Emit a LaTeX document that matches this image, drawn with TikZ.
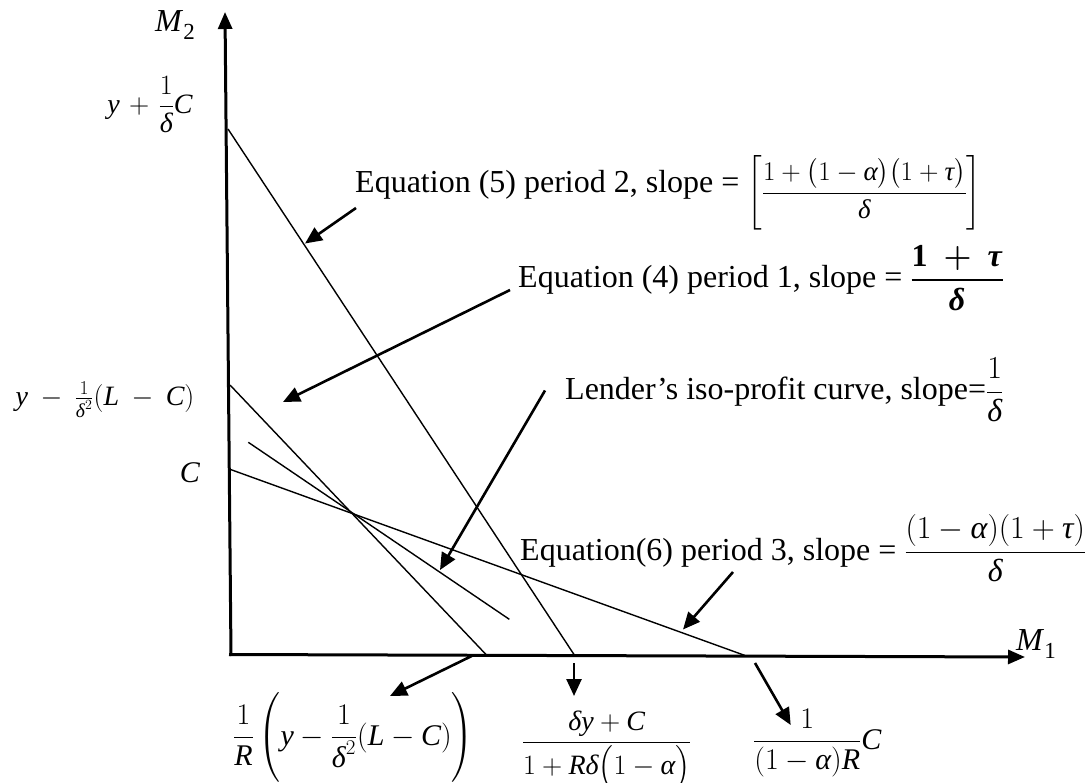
\RequirePackage{fix-cm}
\documentclass[tikz,border=0pt]{standalone}
\usepackage{amsmath}
\usepackage{fontspec}
\setmainfont{Liberation Serif}
\usetikzlibrary{arrows.meta}
\newcommand{\mi}[1]{\textit{#1}}
\begin{document}
\begin{tikzpicture}[x=1pt,y=-1pt,
  thinline/.style={line width=1.4pt},
  axisline/.style={line width=3pt,-{Triangle[length=17pt,width=14pt]}},
  pointer/.style={line width=2.6pt,-{Triangle[length=17pt,width=15pt]}},
  lbl/.style={inner sep=0pt,font=\fontsize{32}{38}\selectfont},
  slbl/.style={inner sep=0pt,font=\fontsize{28}{33}\selectfont},
  mlbl/.style={inner sep=0pt,font=\fontsize{28}{34}\selectfont},
  blbl/.style={inner sep=0pt,font=\fontsize{30}{36}\selectfont}]
\path[use as bounding box] (0,0) rectangle (1090,783);

% axes
\coordinate (O) at (230.5,654.5);
\coordinate (Ytop) at (225,12);
\coordinate (Xend) at (1025,657);
\draw[axisline] (231,656) -- (Ytop);
\draw[axisline] (229,654.5) -- (Xend);

% lines
\coordinate (e5a) at (228,129);
\coordinate (e5b) at (574,654.5);
\coordinate (e4a) at (230,385);
\coordinate (e4b) at (486,654.5);
\coordinate (isa) at (248.3,442.3);
\coordinate (isb) at (509.3,619.3);
\coordinate (e6a) at (230,469.3);
\coordinate (e6b) at (745,655.5);
\draw[thinline] (e5a) -- (e5b);
\draw[thinline] (e4a) -- (e4b);
\draw[thinline] (isa) -- (isb);
\draw[thinline] (e6a) -- (e6b);

% axis labels
\node[lbl,anchor=base west] (m2) at (155,32) {\mi{M}\raisebox{-8pt}{\fontsize{23}{23}\selectfont 2}};
\node[lbl,anchor=base west] (m1) at (1016,650) {\mi{M}\raisebox{-8pt}{\fontsize{23}{23}\selectfont 1}};
\node[slbl] (ltop) at (150,105) {$\medmuskip=6mu \mi{y}+\dfrac{1}{\mi{δ}}\mi{C}$};
\node[slbl] (lmid) at (105,400) {$\medmuskip=8mu \mi{y}-\tfrac{1}{\mi{δ}^{2}}(\mi{L}-\mi{C})$};
\node[blbl] (lc) at (190,473) {\mi{C}};

% equation labels
\node[lbl,anchor=base west] (t5) at (355,193) {Equation (5) period 2, slope = {\fontsize{27}{32}\selectfont\raisebox{-7pt}{$\left[\dfrac{1+\bigl(1-\mi{α}\bigr)\bigl(1+\mi{τ}\bigr)}{\mi{δ}}\right]$}}};
\node[lbl,anchor=base west] (t4) at (518,288) {Equation (4) period 1, slope = $\genfrac{}{}{2.2pt}{0}{\textbf{1}\;\boldsymbol{+}\;\textbf{\textit{τ}}}{\textbf{\textit{δ}}}$};
\node[lbl,anchor=base west] (tiso) at (565,400) {Lender’s iso-profit curve, slope=$\dfrac{1}{\mi{δ}}$};
\node[lbl,anchor=base west] (t6) at (520,560) {Equation(6) period 3, slope = $\dfrac{(1-\mi{α})(1+\mi{τ})}{\mi{δ}}$};

% bottom labels
\node[blbl,anchor=base west] (b1) at (233,745) {$\dfrac{1}{\mi{R}}\left(\mi{y}-\dfrac{1}{\mi{δ}^{2}}(\mi{L}-\mi{C})\vrule height 44pt depth 34pt width 0pt\right)$};
\node[mlbl,anchor=base] (b2) at (606.7,749) {$\dfrac{\mi{δy}+\mi{C}}{1+\mi{R}\mi{δ}\bigl(1-\mi{α}\bigr)}$};
\node[blbl,anchor=base west] (b3) at (753,749) {$\dfrac{1}{(1-\mi{α})\mi{R}}\mi{C}$};

% pointer arrows
\coordinate (p5s) at (356,208);   \coordinate (p5e) at (305,243.5);
\coordinate (p4s) at (510,290);   \coordinate (p4e) at (283,402);
\coordinate (pis) at (545,390.5); \coordinate (pie) at (440,570);
\coordinate (p6s) at (733,572);   \coordinate (p6e) at (683,629.5);
\coordinate (q1s) at (471.7,656); \coordinate (q1e) at (390,696);
\coordinate (q2s) at (574,663);   \coordinate (q2e) at (574,696);
\coordinate (q3s) at (755,663);   \coordinate (q3e) at (790.7,725);
\draw[pointer] (p5s) -- (p5e);
\draw[pointer] (p4s) -- (p4e);
\draw[pointer] (pis) -- (pie);
\draw[pointer] (p6s) -- (p6e);
\draw[pointer] (q1s) -- (q1e);
\draw[pointer] (q2s) -- (q2e);
\draw[pointer] (q3s) -- (q3e);
\end{tikzpicture}
\end{document}
